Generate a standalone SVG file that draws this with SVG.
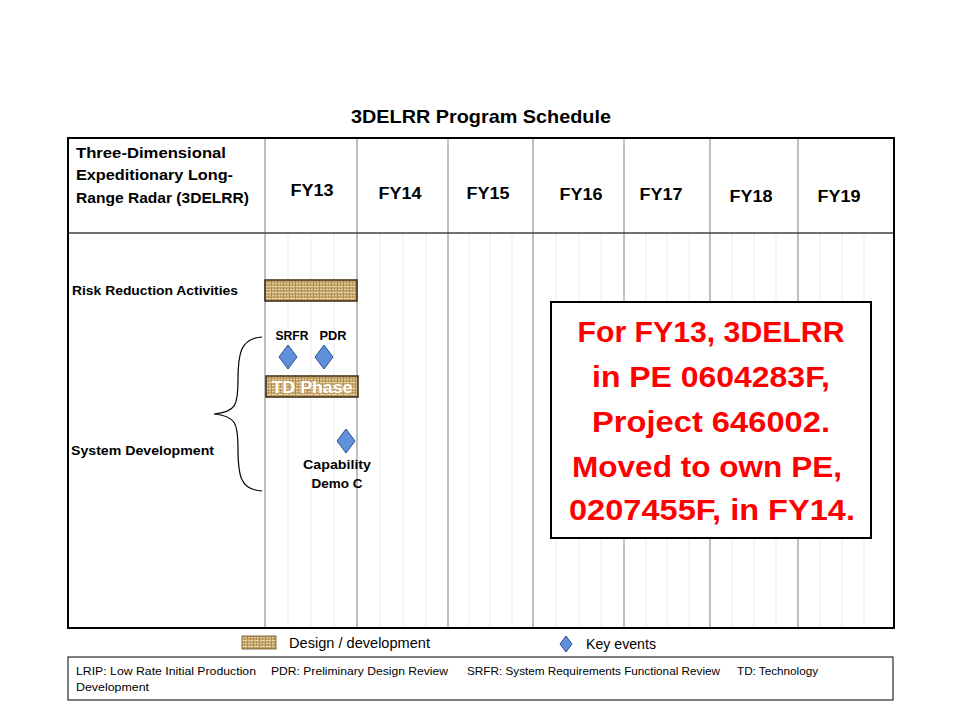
<svg xmlns="http://www.w3.org/2000/svg" width="960" height="720" viewBox="0 0 960 720">
<defs>
<pattern id="burlap" width="6" height="6" patternUnits="userSpaceOnUse">
<rect width="6" height="6" fill="#c9a66e"/>
<path d="M0 1.5H6M0 4.5H6" stroke="#e4cf9d" stroke-width="1"/>
<path d="M1.5 0V6M4.5 0V6" stroke="#a07c45" stroke-width="0.8" opacity="0.7"/>
<rect x="1" y="1" width="1" height="1" fill="#7d5c2e" opacity="0.6"/>
<rect x="4" y="4" width="1" height="1" fill="#f1e3bb"/>
</pattern>
<style>
text{font-family:"Liberation Sans",Arial,sans-serif;fill:#000}
.b{font-weight:bold}
.major{stroke:#808080;stroke-width:1}
.minor{stroke:#ececec;stroke-width:1}
.bar{fill:url(#burlap);stroke:#3a2a10;stroke-width:1.5}
.dia{fill:#6090dc;stroke:#2c4f8c;stroke-width:1}
.red{fill:#ff0000;font-weight:bold;font-size:30px}
</style>
</defs>
<rect width="960" height="720" fill="#fff"/>
<text class="b" x="481" y="123" font-size="19" text-anchor="middle" textLength="260" lengthAdjust="spacingAndGlyphs">3DELRR Program Schedule</text>

<g id="grid">
<g class="minor">
<line x1="288" y1="233" x2="288" y2="628"/><line x1="311" y1="233" x2="311" y2="628"/><line x1="334" y1="233" x2="334" y2="628"/>
<line x1="380" y1="233" x2="380" y2="628"/><line x1="403" y1="233" x2="403" y2="628"/><line x1="426" y1="233" x2="426" y2="628"/>
<line x1="469" y1="233" x2="469" y2="628"/><line x1="490" y1="233" x2="490" y2="628"/><line x1="512" y1="233" x2="512" y2="628"/>
<line x1="556" y1="233" x2="556" y2="628"/><line x1="579" y1="233" x2="579" y2="628"/><line x1="601" y1="233" x2="601" y2="628"/>
<line x1="646" y1="233" x2="646" y2="628"/><line x1="667" y1="233" x2="667" y2="628"/><line x1="689" y1="233" x2="689" y2="628"/>
<line x1="732" y1="233" x2="732" y2="628"/><line x1="754" y1="233" x2="754" y2="628"/><line x1="776" y1="233" x2="776" y2="628"/>
<line x1="820" y1="233" x2="820" y2="628"/><line x1="842" y1="233" x2="842" y2="628"/><line x1="864" y1="233" x2="864" y2="628"/>
</g>
<g class="major">
<line x1="265" y1="138" x2="265" y2="628"/><line x1="357" y1="138" x2="357" y2="628"/><line x1="448" y1="138" x2="448" y2="628"/>
<line x1="533" y1="138" x2="533" y2="628"/><line x1="624" y1="138" x2="624" y2="628"/><line x1="710" y1="138" x2="710" y2="628"/>
<line x1="798" y1="138" x2="798" y2="628"/>
</g>
<line x1="68" y1="233" x2="895" y2="233" stroke="#404040" stroke-width="1.5"/>
<rect x="68" y="138" width="826" height="490" fill="none" stroke="#000" stroke-width="2"/>
</g>

<g id="header">
<text class="b" x="76" y="158" font-size="15" textLength="150" lengthAdjust="spacingAndGlyphs">Three-Dimensional</text>
<text class="b" x="76" y="180" font-size="15" textLength="157" lengthAdjust="spacingAndGlyphs">Expeditionary Long-</text>
<text class="b" x="76" y="203" font-size="15" textLength="173" lengthAdjust="spacingAndGlyphs">Range Radar (3DELRR)</text>
<g font-size="16" class="b" text-anchor="middle">
<text class="b" x="312" y="196" textLength="43" lengthAdjust="spacingAndGlyphs">FY13</text>
<text class="b" x="400" y="199" textLength="43" lengthAdjust="spacingAndGlyphs">FY14</text>
<text class="b" x="488" y="199" textLength="43" lengthAdjust="spacingAndGlyphs">FY15</text>
<text class="b" x="581" y="200" textLength="43" lengthAdjust="spacingAndGlyphs">FY16</text>
<text class="b" x="661" y="200" textLength="43" lengthAdjust="spacingAndGlyphs">FY17</text>
<text class="b" x="751" y="202" textLength="43" lengthAdjust="spacingAndGlyphs">FY18</text>
<text class="b" x="839" y="202" textLength="43" lengthAdjust="spacingAndGlyphs">FY19</text>
</g>
</g>

<g id="risk-reduction">
<text class="b" x="72" y="295" font-size="13" textLength="166" lengthAdjust="spacingAndGlyphs">Risk Reduction Activities</text>
<rect class="bar" x="265" y="280" width="92" height="21"/>
</g>

<g id="system-development">
<text class="b" x="71" y="455" font-size="13" textLength="143" lengthAdjust="spacingAndGlyphs">System Development</text>
<path d="M262 337 C240 338 238 355 238 380 C238 405 236 412 214 414 C236 416 238 424 238 448 C238 475 240 490 262 491" fill="none" stroke="#000" stroke-width="1.2"/>
</g>

<g id="srfr">
<text class="b" x="292" y="340" font-size="13" text-anchor="middle" textLength="33" lengthAdjust="spacingAndGlyphs">SRFR</text>
<path class="dia" d="M288 345 L297 357 L288 369 L279 357 Z"/>
</g>
<g id="pdr">
<text class="b" x="333" y="340" font-size="13" text-anchor="middle" textLength="27" lengthAdjust="spacingAndGlyphs">PDR</text>
<path class="dia" d="M324 345 L333 357 L324 369 L315 357 Z"/>
</g>

<g id="td-phase">
<rect class="bar" x="266" y="376" width="92" height="21"/>
<text class="b" x="312" y="393" font-size="16" text-anchor="middle" style="fill:#fff" textLength="81" lengthAdjust="spacingAndGlyphs">TD Phase</text>
</g>

<g id="capability-demo">
<path class="dia" d="M346 429 L355 441 L346 453 L337 441 Z"/>
<text class="b" x="337" y="469" font-size="13" text-anchor="middle" textLength="68" lengthAdjust="spacingAndGlyphs">Capability</text>
<text class="b" x="337" y="488" font-size="13" text-anchor="middle" textLength="51" lengthAdjust="spacingAndGlyphs">Demo C</text>
</g>

<g id="note">
<rect x="551" y="302" width="320" height="236" fill="#fff" stroke="#000" stroke-width="2"/>
<text class="red" x="711" y="342" text-anchor="middle" textLength="267" lengthAdjust="spacingAndGlyphs">For FY13, 3DELRR</text>
<text class="red" x="711" y="387" text-anchor="middle" textLength="238" lengthAdjust="spacingAndGlyphs">in PE 0604283F,</text>
<text class="red" x="711" y="432" text-anchor="middle" textLength="238" lengthAdjust="spacingAndGlyphs">Project 646002.</text>
<text class="red" x="707" y="477" text-anchor="middle" textLength="270" lengthAdjust="spacingAndGlyphs">Moved to own PE,</text>
<text class="red" x="712" y="520" text-anchor="middle" textLength="286" lengthAdjust="spacingAndGlyphs">0207455F, in FY14.</text>
</g>

<g id="legend">
<rect x="242" y="636" width="34" height="13" fill="url(#burlap)" stroke="#6a5020" stroke-width="0.8"/>
<text x="289" y="648" font-size="14" textLength="141" lengthAdjust="spacingAndGlyphs">Design / development</text>
<path class="dia" d="M566 636 L572 644 L566 652 L560 644 Z"/>
<text x="586" y="649" font-size="14" textLength="70" lengthAdjust="spacingAndGlyphs">Key events</text>
</g>

<g id="footer">
<rect x="68" y="657" width="825" height="43" fill="#fff" stroke="#000" stroke-width="1"/>
<g font-size="11">
<text x="76" y="675" textLength="180" lengthAdjust="spacingAndGlyphs">LRIP: Low Rate Initial Production</text>
<text x="271" y="675" textLength="177" lengthAdjust="spacingAndGlyphs">PDR:  Preliminary Design Review</text>
<text x="467" y="675" textLength="253" lengthAdjust="spacingAndGlyphs">SRFR: System Requirements Functional Review</text>
<text x="737" y="675" textLength="81" lengthAdjust="spacingAndGlyphs">TD:  Technology</text>
<text x="76" y="691" textLength="73" lengthAdjust="spacingAndGlyphs">Development</text>
</g>
</g>
</svg>
